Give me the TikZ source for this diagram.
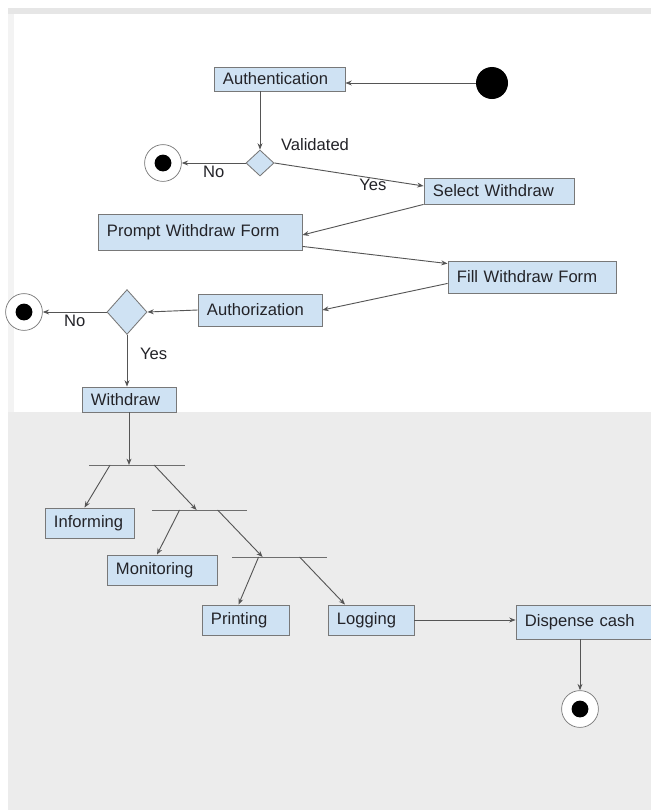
\documentclass[tikz,border=0pt]{standalone}
\usepackage{fontspec}
\setmainfont{Liberation Sans}
\usetikzlibrary{arrows.meta,positioning,calc,shapes.geometric}
\definecolor{actfill}{RGB}{207,226,243}
\definecolor{actline}{RGB}{120,120,120}
\definecolor{flowcol}{RGB}{85,85,85}
\definecolor{barcol}{RGB}{110,110,110}
\definecolor{txtcol}{RGB}{35,35,40}
\definecolor{lowbg}{RGB}{236,236,236}
\definecolor{topbar}{RGB}{230,230,230}
\definecolor{sidebar}{RGB}{243,243,243}

\tikzset{
  act/.style n args={2}{rectangle, draw=actline, fill=actfill, line width=0.6pt, align=left,
      inner xsep=0.225cm, inner ysep=0pt, text width=#1, minimum height=#2},
  decide/.style n args={2}{diamond, draw=actline, fill=actfill, line width=0.6pt, inner sep=0pt,
      minimum width=#1, minimum height=#2},
  startst/.style={circle, fill=black, minimum size=0.8cm, inner sep=0pt},
  endst/.style={circle, draw=actline, fill=white, line width=0.5pt, minimum size=0.92cm, inner sep=0pt,
      path picture={\fill[black] (path picture bounding box.center) circle (0.21cm);}},
  forkbar/.style={rectangle, fill=barcol, inner sep=0pt, minimum height=0.7pt, minimum width=2.38cm},
  flow/.style={draw=flowcol, line width=0.65pt, -{Stealth[length=4.5pt,width=3.5pt]}},
  lbl/.style={inner sep=1pt}
}

\begin{document}
\begin{tikzpicture}[x=0.025cm, y=-0.025cm, font=\fontsize{11.8}{13}\selectfont, text=txtcol]
\useasboundingbox (0,0) rectangle (651,810);
% screenshot background
\fill[white] (0,0) rectangle (651,810);
\fill[topbar] (8,8) rectangle (651,14);
\fill[sidebar] (8,14) rectangle (14,412);
\fill[lowbg] (8,412) rectangle (651,810);

% states
\node[startst] (start) at (492,83) {};
\node[act={2.825cm}{0.6cm}] (auth) at (279.5,79) {Authentication};
\node[decide={0.7cm}{0.65cm}] (dec1) at (260,163) {};
\node[endst] (end1) at (163,163) {};
\node[lbl] (valid) at (315,145) {Validated};
\node[act={3.3cm}{0.65cm}] (select) at (499,191) {Select Withdraw};
\node[act={4.65cm}{0.9cm}] (prompt) at (200,232) {Prompt Withdraw Form};
\node[act={3.75cm}{0.8cm}] (fill) at (532,277) {Fill Withdraw Form};
\node[act={2.65cm}{0.8cm}] (authz) at (260,310) {Authorization};
\node[decide={1cm}{1.12cm}] (dec2) at (127,312) {};
\node[endst] (end2) at (24,312) {};
\node[act={1.9cm}{0.625cm}] (withdraw) at (129,399.5) {Withdraw};

% fork bars and parallel activities
\node[forkbar] (bar1) at (137,465) {};
\node[forkbar] (bar2) at (199.5,510) {};
\node[forkbar] (bar3) at (279.5,557) {};
\node[act={1.775cm}{0.75cm}] (inform) at (89.5,523) {Informing};
\node[act={2.3cm}{0.75cm}] (monitor) at (162,570) {Monitoring};
\node[act={1.725cm}{0.75cm}] (print) at (245.5,620) {Printing};
\node[act={1.7cm}{0.75cm}] (logging) at (371,620) {Logging};
\node[act={2.925cm}{0.85cm}] (dispense) at (583.5,622) {Dispense cash};
\node[endst] (end3) at (580,709) {};

% flows
\draw[flow] (start.west) -- (start.west -| auth.east);
\draw[flow] (auth.south -| dec1.north) -- (dec1.north);
\draw[flow] (dec1.west) -- node[lbl, below=1pt] {No} (end1.east);
\draw[flow] (dec1.east) -- node[lbl, pos=0.66, below=-1pt] {Yes} ($(select.west)+(0,-5)$);
\draw[flow] (select.south west) -- ($(prompt.east)+(0,3)$);
\draw[flow] ($(prompt.south east)+(0,-4)$) -- ($(fill.north west)+(0,3)$);
\draw[flow] ($(fill.south west)+(0,-10)$) -- (authz.east);
\draw[flow] (authz.west) -- (dec2.east);
\draw[flow] (dec2.west) -- node[lbl, below=1pt] {No} (end2.east);
\draw[flow] (dec2.south) -- node[lbl, pos=0.36, right=8pt] {Yes} (dec2.south |- withdraw.north);
\draw[flow] (withdraw.south) -- (withdraw.south |- bar1.center);
\draw[flow] ($(bar1.west)+(21,0)$) -- ($(inform.north)+(-5,0)$);
\draw[flow] ($(bar1.west)+(65,0)$) -- ($(bar2.west)+(45,0)$);
\draw[flow] ($(bar2.west)+(28,0)$) -- ($(monitor.north)+(-5,0)$);
\draw[flow] ($(bar2.west)+(66,0)$) -- ($(bar3.west)+(31,0)$);
\draw[flow] ($(bar3.west)+(27,0)$) -- ($(print.north)+(-7,0)$);
\draw[flow] ($(bar3.west)+(68,0)$) -- ($(logging.north)+(-26,0)$);
\draw[flow] (logging.east) -- (logging.east -| dispense.west);
\draw[flow] (end3.north |- dispense.south) -- (end3.north);
\end{tikzpicture}
\end{document}
